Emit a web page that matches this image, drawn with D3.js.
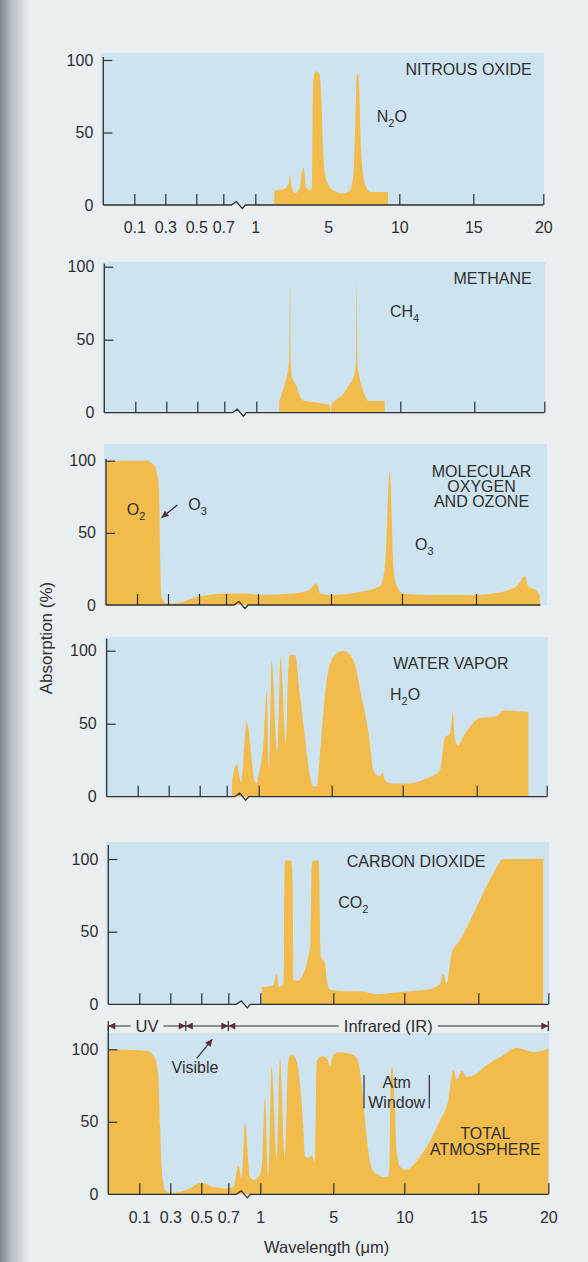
<!DOCTYPE html>
<html>
<head>
<meta charset="utf-8">
<script src="https://cdn.jsdelivr.net/npm/d3@7"></script>
<style>
  body { margin: 0; background: #e9eef0; }
  svg { display: block; }
  text { font-family: "Liberation Sans", Arial, sans-serif; }
</style>
</head>
<body>
<script>
// Wavelength axis (µm) - broken, piecewise axis
var xBreaks = [0, 0.1, 0.3, 0.5, 0.7, 1, 5, 10, 15, 20];
var xTicks = [0.1, 0.3, 0.5, 0.7, 1, 5, 10, 15, 20];
var yTicks = [0, 50, 100];

// Absorption (%) vs wavelength (µm)
var n2o = [[2.04,10],[2.6,11],[2.85,16],[2.9,21],[3.0,12],[3.16,8],[3.45,13],[3.63,26],[3.8,12],[3.99,10],
  [4.1,12],[4.14,60],[4.2,88],[4.3,92],[4.5,91],[4.64,68],[4.73,33],[4.9,17],[5.35,10],[6.05,8],[6.5,10],
  [6.76,20],[6.88,50],[7.0,88],[7.07,91],[7.18,80],[7.3,40],[7.46,20],[7.7,12],[7.94,9],[9.2,9]];
var ch4 = [[2.26,8],[2.52,18],[2.67,25],[2.8,35],[2.85,89],[2.9,35],[2.94,25],[3.22,18],[3.4,11],[3.67,8],
  [4.31,7],[5.05,5],[5.06,0],[5.12,0],[5.13,5],[5.99,13],[6.46,20],[6.74,25],[6.88,35],[6.93,89],[6.98,35],
  [7.11,25],[7.4,15],[7.75,8],[8.9,8]];
var o2o3 = [[0,100],[0.163,100],[0.216,96],[0.227,92],[0.242,80],[0.248,40],[0.259,5],[0.292,1],[0.334,1],
  [0.507,6],[0.707,8],[0.894,8],[1.11,7],[2.94,8],[3.76,10],[4.22,15],[4.4,8],[4.95,7],[7.04,9],[8.45,13],
  [8.8,27],[9.15,93],[9.39,27],[9.63,13],[10.09,8],[11.67,7],[15.05,7],[16.24,8],[17.9,13],[18.5,20],
  [18.73,13],[19.33,10],[19.57,6]];
var h2o = [[0.747,1],[0.753,12],[0.794,22],[0.834,10],[0.888,51],[0.965,10],[0.98,9],[0.996,14],[1.25,35],
  [1.44,72],[1.56,19],[1.71,93],[2.03,30],[2.2,96],[2.5,38],[2.6,80],[2.72,97],[2.99,97],[3.26,70],
  [3.54,40],[3.81,14],[3.99,7],[4.18,7],[4.36,29],[4.54,58],[4.81,86],[5.23,97],[5.82,100],[6.29,97],
  [6.76,86],[6.99,74],[7.22,63],[7.4,55],[7.58,44],[7.75,32],[7.93,18],[8.4,14],[8.59,17],[8.75,11],
  [9.34,9],[10.49,9],[11.62,12.6],[12.52,18],[12.86,41],[13.2,43],[13.38,58],[13.53,39],[13.76,35],
  [14.09,41],[14.55,48],[15.24,54],[16.43,55],[16.9,59],[18.69,58]];
var co2 = [[1.08,12],[1.71,13],[1.9,21],[2.02,12],[2.26,14],[2.3,40],[2.33,95],[2.4,99],[2.7,99],[2.78,80],
  [2.81,17],[2.99,16],[3.36,21],[3.63,33],[3.76,44],[3.82,95],[3.9,99],[4.2,99],[4.31,33],[4.55,28],
  [4.64,17],[4.82,10],[5.7,9],[6.88,9],[8.05,7],[9.22,8],[10.38,9],[11.51,10],[12.41,14],[12.63,21],
  [12.86,14],[13.2,35],[13.76,44],[14.89,67],[16.07,90],[16.79,100],[19.64,100]];
var total = [[0,100],[0.148,99],[0.201,94],[0.223,81],[0.234,47],[0.245,17],[0.266,3],[0.298,1],[0.406,3],
  [0.503,8],[0.589,5],[0.688,4],[0.747,5],[0.763,10],[0.794,19.5],[0.826,11],[0.857,49],[0.903,12],
  [0.934,10],[0.981,12],[1.08,19],[1.26,67],[1.44,12],[1.62,88],[1.9,24],[2.08,94],[2.35,26],[2.53,92],
  [2.72,96],[2.99,92],[3.18,75],[3.36,45],[3.45,26],[3.63,25],[3.82,27],[4.0,22],[4.09,92],[4.36,95],
  [4.64,94],[4.82,88],[5.0,96],[5.35,98],[6.18,97],[6.65,94],[7.0,76.5],[7.23,51],[7.46,30.5],[7.7,18],
  [7.94,14.5],[8.17,14],[8.41,12],[8.76,12],[8.94,14],[9.04,79],[9.15,88],[9.34,60],[9.46,30],[9.7,19],
  [10.05,17],[10.38,18],[11.06,26],[11.74,37],[12.41,51],[12.97,65],[13.2,81],[13.31,86],[13.54,79],
  [13.88,85],[14.22,81],[14.66,82],[15.6,89],[16.79,96],[17.74,101],[18.21,100],[18.93,98],[19.53,99],[20,100.5]];

// Spectral bands shown above the last panel
var bandNames = ["UV", "", "Infrared (IR)"];
var bandEdges = [0, 0.4, 0.7, 20];

var W = 588, H = 1262;
var ink = "#2f2f2f", fillCol = "#f1bc4c", boxCol = "#cee3f0", arrowCol = "#55303a";

var allTicks = xTicks;
var panels = [
  { data: n2o,  left: 103.3, top: 60,     h: 145,   box: 53,   ext: 3,  end: 20,   labels: true,
    ticks: [0.1,0.3,0.5,0.7,1,10,15,20],
    notes: [{ t: "NITROUS OXIDE", x: 428.4, y: 15, a: "end" }, { f: ["N","2","O"], x: 273.4, y: 61.7 }] },
  { data: ch4,  left: 104.3, top: 266.7,  h: 146,   box: 262,  ext: 3,  end: 20,   labels: false,
    ticks: [0.1,0.3,0.5,0.7,1,10,15,20],
    notes: [{ t: "METHANE", x: 427.4, y: 17.3, a: "end" }, { f: ["CH","4"], x: 285.7, y: 50 }] },
  { data: o2o3, left: 106,   top: 460.7,  h: 144.3, box: 444,  ext: 2,  end: 19.6, labels: false,
    ticks: [0.1,0.3,0.5,0.7,1,5,10,15],
    notes: [{ t: "MOLECULAR", x: 375.5, y: 16, a: "middle" }, { t: "OXYGEN", x: 375.5, y: 31, a: "middle" },
            { t: "AND OZONE", x: 375.5, y: 46, a: "middle" }, { f: ["O","2"], x: 20.7, y: 54.3 },
            { f: ["O","3"], x: 82.3, y: 49.3 }, { f: ["O","3"], x: 309, y: 89.3 }],
    arrows: [[71.3, 44.3, 55.5, 57]] },
  { data: h2o,  left: 106.7, top: 650.7,  h: 146,   box: 637,  ext: 12, end: 20,   labels: false,
    ticks: allTicks,
    notes: [{ t: "WATER VAPOR", x: 286.6, y: 18.6 }, { f: ["H","2","O"], x: 283.3, y: 49.3 }] },
  { data: co2,  left: 108.3, top: 859,    h: 145.3, box: 842,  ext: 14, end: 20,   labels: false,
    ticks: allTicks,
    notes: [{ t: "CARBON DIOXIDE", x: 238.4, y: 7.7 }, { f: ["CO","2"], x: 230, y: 49.3 }] },
  { data: total, left: 108.3, top: 1049.3, h: 145,  box: 1033, ext: 24, end: 20,   labels: true,
    ticks: allTicks,
    notes: [{ t: "Visible", x: 86.7, y: 24, a: "middle" }, { t: "Atm", x: 288.4, y: 39, a: "middle" },
            { t: "Window", x: 288.4, y: 59, a: "middle" }, { t: "TOTAL", x: 377, y: 90, a: "middle" },
            { t: "ATMOSPHERE", x: 377, y: 105.7, a: "middle" }],
    arrows: [[88.4, 9, 104, -10]],
    brackets: [255.7, 321], bands: true }
];

var x = d3.scaleLinear().domain(xBreaks).range([0, 31, 62, 93, 120, 152, 225, 296, 370, 440]);

var svg = d3.select("body").append("svg").attr("width", W).attr("height", H);
var defs = svg.append("defs");

// scanned page edge on the left
var grad = defs.append("linearGradient").attr("id", "edge");
grad.append("stop").attr("offset", "0%").attr("stop-color", "#7b868c");
grad.append("stop").attr("offset", "40%").attr("stop-color", "#b9c2c6");
grad.append("stop").attr("offset", "100%").attr("stop-color", "#e9eef0");
svg.append("rect").attr("width", W).attr("height", H).attr("fill", "#e9eef0");
svg.append("rect").attr("width", 30).attr("height", H).attr("fill", "url(#edge)");

defs.append("marker").attr("id", "head").attr("viewBox", "0 0 10 10")
  .attr("refX", 10).attr("refY", 5).attr("markerUnits", "userSpaceOnUse")
  .attr("markerWidth", 8).attr("markerHeight", 7).attr("orient", "auto-start-reverse")
  .append("path").attr("d", "M0,0L10,5L0,10Z").attr("fill", arrowCol);

function formula(g, parts, px, py) {
  var t = g.append("text").attr("x", px).attr("y", py).attr("font-size", 16).attr("fill", ink);
  parts.forEach(function(s, i) {
    if (i % 2 == 1) t.append("tspan").attr("font-size", 11).attr("dy", 5).text(s);
    else t.append("tspan").attr("dy", i > 0 ? -5 : 0).text(s);
  });
}

panels.forEach(function(p) {
  var g = svg.append("g").attr("transform", "translate(" + p.left + "," + p.top + ")");
  var y = d3.scaleLinear().domain([0, 100]).range([p.h, 0]);

  // light blue panel
  g.append("rect").attr("x", -2).attr("y", p.box - p.top)
    .attr("width", 443).attr("height", p.top + p.h - p.box).attr("fill", boxCol);

  // absorption spectrum
  var area = d3.area().curve(d3.curveMonotoneX)
    .x(function(d) { return x(d[0]); }).y0(y(0)).y1(function(d) { return y(d[1]); });
  g.append("path").datum(p.data).attr("d", area).attr("fill", fillCol);

  // x axis (ticks point up, axis broken between 0.7 and 1)
  var xa = g.append("g").attr("transform", "translate(0," + p.h + ")")
    .call(d3.axisBottom(x).tickValues(xTicks).tickSize(-11).tickPadding(17)
      .tickFormat(p.labels ? function(d) { return String(d); } : function() { return ""; }));
  xa.attr("color", ink).attr("font-size", 16).attr("font-family", null);
  xa.select(".domain").remove();
  xa.selectAll(".tick").filter(function(d) { return p.ticks.indexOf(d) < 0; }).select("line").remove();
  xa.selectAll(".tick line").attr("stroke-width", 1.2);
  xa.append("path")
    .attr("d", "M0,0H128L133,-3.5L139,3.5L142,0H" + x(p.end))
    .attr("fill", "none").attr("stroke", ink).attr("stroke-width", 1.3);

  // y axis (ticks point right)
  var ya = g.append("g").call(d3.axisLeft(y).tickValues(yTicks).tickSize(-9).tickPadding(10));
  ya.attr("color", ink).attr("font-size", 16).attr("font-family", null);
  ya.select(".domain").remove();
  ya.selectAll(".tick").filter(function(d) { return d === 0; }).select("line").remove();
  ya.selectAll(".tick line").attr("stroke-width", 1.2);
  g.append("line").attr("x1", 0).attr("x2", 0).attr("y1", y(0)).attr("y2", y(100) - p.ext)
    .attr("stroke", ink).attr("stroke-width", 1.3);

  // labels
  p.notes.forEach(function(n) {
    if (n.f) formula(g, n.f, n.x, n.y);
    else g.append("text").attr("x", n.x).attr("y", n.y).attr("text-anchor", n.a || "start")
      .attr("font-size", 16).attr("fill", ink).text(n.t);
  });
  (p.arrows || []).forEach(function(a) {
    g.append("line").attr("x1", a[0]).attr("y1", a[1]).attr("x2", a[2]).attr("y2", a[3])
      .attr("stroke", ink).attr("stroke-width", 1.2).attr("marker-end", "url(#head)");
  });
  (p.brackets || []).forEach(function(bx) {
    g.append("line").attr("x1", bx).attr("x2", bx).attr("y1", 25.7).attr("y2", 59)
      .attr("stroke", ink).attr("stroke-width", 1.2);
  });

  if (p.bands) {
    var by = -23.3;
    bandEdges.forEach(function(e) {
      g.append("line").attr("x1", x(e)).attr("x2", x(e)).attr("y1", by - 5).attr("y2", by + 5)
        .attr("stroke", ink).attr("stroke-width", 1.2);
    });
    bandNames.forEach(function(name, i) {
      var a = x(bandEdges[i]), b = x(bandEdges[i + 1]);
      if (!name) {
        g.append("line").attr("x1", a).attr("x2", b).attr("y1", by).attr("y2", by)
          .attr("stroke", ink).attr("stroke-width", 1)
          .attr("marker-start", "url(#head)").attr("marker-end", "url(#head)");
        return;
      }
      var mid = (a + b) / 2;
      var t = g.append("text").attr("x", mid).attr("y", by + 6).attr("text-anchor", "middle")
        .attr("font-size", 16.5).attr("fill", ink).text(name);
      var w = t.node().getComputedTextLength();
      g.append("line").attr("x1", mid - w / 2 - 5).attr("x2", a).attr("y1", by).attr("y2", by)
        .attr("stroke", ink).attr("stroke-width", 1).attr("marker-end", "url(#head)");
      g.append("line").attr("x1", mid + w / 2 + 5).attr("x2", b).attr("y1", by).attr("y2", by)
        .attr("stroke", ink).attr("stroke-width", 1).attr("marker-end", "url(#head)");
    });

    g.append("text").attr("x", 218.4).attr("y", 204).attr("text-anchor", "middle")
      .attr("font-size", 16.5).attr("fill", ink).text("Wavelength (\u03bcm)");
  }
});

svg.append("text").attr("transform", "translate(52,638) rotate(-90)")
  .attr("text-anchor", "middle").attr("font-size", 17).attr("fill", ink).text("Absorption (%)");
</script>
</body>
</html>
